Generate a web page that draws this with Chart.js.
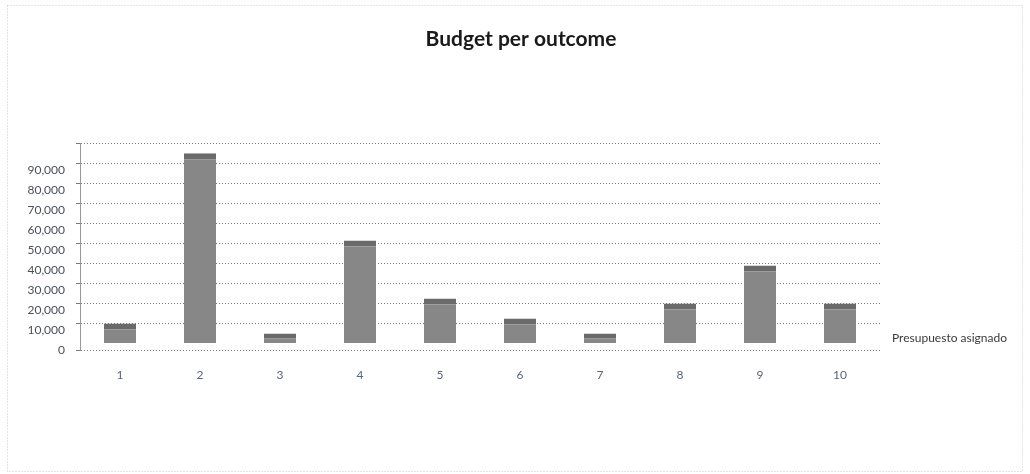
<!DOCTYPE html>
<html>
<head>
<meta charset="utf-8">
<script src="https://cdn.jsdelivr.net/npm/chart.js@4/dist/chart.umd.min.js"></script>
<style>
  html, body { margin: 0; padding: 0; background: #fff; }
  #wrap { width: 1030px; height: 474px; }
</style>
</head>
<body>
<div id="wrap"><canvas id="c" width="1030" height="474"></canvas></div>
<script>
const categories = ['1', '2', '3', '4', '5', '6', '7', '8', '9', '10'];
const budget = [10000, 95000, 5000, 51500, 22500, 12500, 5000, 20000, 39000, 20000];
const seriesName = 'Presupuesto asignado';
const chartTitle = 'Budget per outcome';
const yTickValues = [-3500, 0, 10000, 20000, 30000, 40000, 50000, 60000, 70000, 80000, 90000, 100000];
const yLabelMax = 90000;

const framePlugin = {
  id: 'frame',
  beforeDraw(chart) {
    const ctx = chart.ctx;
    ctx.save();
    ctx.fillStyle = '#ffffff';
    ctx.fillRect(0, 0, chart.width, chart.height);
    ctx.strokeStyle = '#c8c8c8';
    ctx.setLineDash([1, 2]);
    ctx.lineWidth = 1;
    ctx.strokeRect(7.5, 5.5, 1015, 466);
    ctx.restore();
  }
};

new Chart(document.getElementById('c'), {
  type: 'bar',
  data: {
    labels: categories,
    datasets: [{
      label: seriesName,
      data: budget,
      backgroundColor: '#878787',
      borderColor: '#6a6a6a',
      borderWidth: { top: 6, left: 0, right: 0, bottom: 0 },
      borderSkipped: false,
      barPercentage: 0.4,
      categoryPercentage: 1.0
    }]
  },
  options: {
    responsive: false,
    animation: false,
    devicePixelRatio: 1,
    layout: { padding: { left: 25, right: 13, top: 0, bottom: 83 } },
    plugins: {
      legend: {
        display: true,
        position: 'right',
        align: 'end',
        fullSize: false,
        labels: {
          boxWidth: 0,
          boxHeight: 0,
          padding: 6,
          color: '#3a3a3a',
          font: { family: 'Lato, "Open Sans", sans-serif', size: 12 }
        }
      },
      tooltip: { enabled: false },
      title: {
        display: true,
        text: chartTitle,
        color: '#1a1a1a',
        font: { family: 'Lato, "Open Sans", sans-serif', size: 21, weight: 'bold' },
        padding: { top: 27, bottom: 91 }
      }
    },
    scales: {
      x: {
        grid: { display: false },
        border: { display: false },
        ticks: {
          color: '#5b6677',
          font: { family: 'Lato, "Open Sans", sans-serif', size: 12 },
          padding: 9
        }
      },
      y: {
        min: -3500,
        max: 100000,
        afterBuildTicks(scale) {
          scale.ticks = yTickValues.map(v => ({ value: v }));
        },
        afterFit(scale) { scale.width = 55; },
        grid: {
          color: (c) => (c.tick && c.tick.value === 0) ? 'rgba(0,0,0,0)' : '#7a7a7a',
          lineWidth: 1,
          tickLength: 4,
          drawTicks: true
        },
        border: { display: true, color: '#9a9a9a', dash: [1, 2] },
        ticks: {
          color: '#4a4f5a',
          font: { family: 'Lato, "Open Sans", sans-serif', size: 12 },
          padding: 11,
          labelOffset: 7,
          callback(v) {
            return (v >= 0 && v <= yLabelMax) ? v.toLocaleString('en-US') : '';
          }
        }
      }
    }
  },
  plugins: [framePlugin]
});
</script>
</body>
</html>
